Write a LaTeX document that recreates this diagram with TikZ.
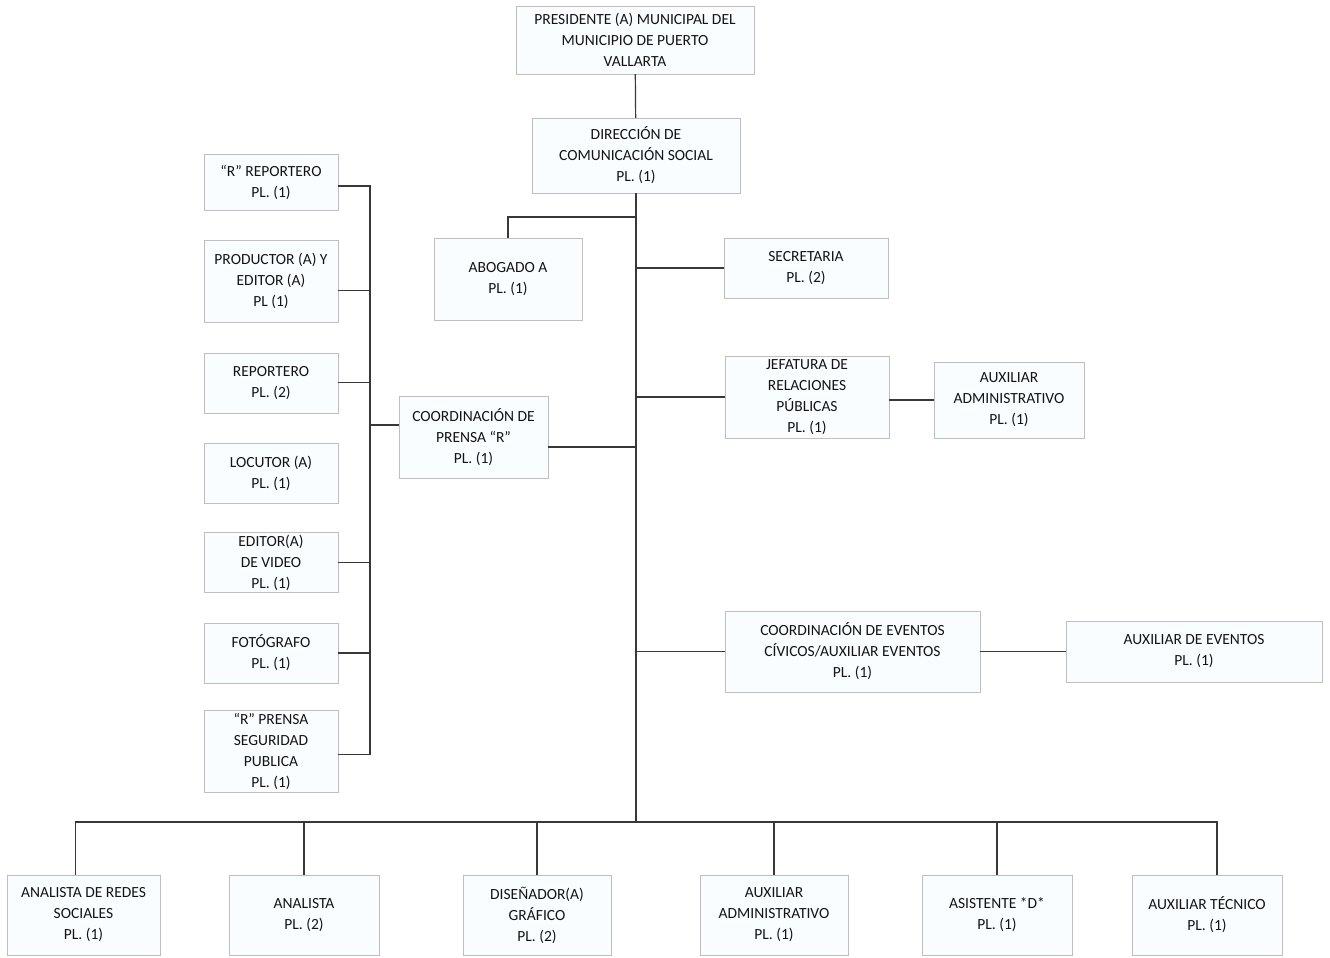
\documentclass[tikz,border=0pt]{standalone}
\usepackage{fontspec}
\setmainfont{Carlito}
\usetikzlibrary{positioning}

\begin{document}
\begin{tikzpicture}[x=1pt,y=-1pt,
every node/.style={font=\fontsize{15.5}{21}\selectfont, text=black!92},
puesto/.style={draw=black!25, fill=cyan!2, align=center, inner sep=2pt, minimum width=134pt},
abajo/.style={puesto, minimum width=150pt, minimum height=80pt},
linea/.style={draw=black!78, line width=1.2pt},
node distance=30pt]
\useasboundingbox (0,0) rectangle (1330,958);

% cabeza
\node[puesto, minimum width=238pt, minimum height=68pt] (pres) at (635,40) {PRESIDENTE (A) MUNICIPAL DEL\\MUNICIPIO DE PUERTO\\VALLARTA};
\node[puesto, minimum width=208pt, minimum height=75pt] (dir) at (636,155.5) {DIRECCIÓN DE\\COMUNICACIÓN SOCIAL\\PL. (1)};

% columna izquierda
\node[puesto, minimum height=56pt] (rrep) at (271,182) {“R” REPORTERO\\PL. (1)};
\node[puesto, minimum height=82pt, below=30pt of rrep] (prod) {PRODUCTOR (A) Y\\EDITOR (A)\\PL (1)};
\node[puesto, minimum height=60pt, below=30pt of prod] (rep) {REPORTERO\\PL. (2)};
\node[puesto, minimum height=60pt, below=30pt of rep] (loc) {LOCUTOR (A)\\PL. (1)};
\node[puesto, minimum height=60pt, below=29pt of loc] (edv) {EDITOR(A)\\DE VIDEO\\PL. (1)};
\node[puesto, minimum height=60pt, below=30pt of edv] (foto) {FOTÓGRAFO\\PL. (1)};
\node[puesto, minimum height=82pt, below=27pt of foto] (rpre) {“R” PRENSA\\SEGURIDAD\\PUBLICA\\PL. (1)};

% centro
\node[puesto, minimum width=148pt, minimum height=82pt] (abog) at (508,279) {ABOGADO A\\PL. (1)};
\node[puesto, minimum width=149pt, minimum height=82pt] (cpre) at (473.5,437) {COORDINACIÓN DE\\PRENSA “R”\\PL. (1)};

% derecha
\node[puesto, minimum width=164pt, minimum height=60pt] (secr) at (806,268) {SECRETARIA\\PL. (2)};
\node[puesto, minimum width=164pt, minimum height=82pt] (jef) at (807,397) {JEFATURA DE\\RELACIONES\\PÚBLICAS\\PL. (1)};
\node[puesto, minimum width=150pt, minimum height=76pt] (aux1) at (1009,400) {AUXILIAR\\ADMINISTRATIVO\\PL. (1)};
\node[puesto, minimum width=255pt, minimum height=81pt] (cev) at (852.5,651.5) {COORDINACIÓN DE EVENTOS\\CÍVICOS/AUXILIAR EVENTOS\\PL. (1)};
\node[puesto, minimum width=256pt, minimum height=61pt] (auxev) at (1194,651.5) {AUXILIAR DE EVENTOS\\PL. (1)};

% fila de abajo
\node[abajo, minimum width=153pt] (ars) at (83.5,915) {ANALISTA DE REDES\\SOCIALES\\PL. (1)};
\node[abajo] (ana) at (304,915) {ANALISTA\\PL. (2)};
\node[abajo, minimum width=148pt] (dis) at (537,915) {DISEÑADOR(A)\\GRÁFICO\\PL. (2)};
\node[abajo, minimum width=148pt] (aux2) at (774,915) {AUXILIAR\\ADMINISTRATIVO\\PL. (1)};
\node[abajo] (asi) at (997,915) {ASISTENTE *D*\\PL. (1)};
\node[abajo] (tec) at (1207,915) {AUXILIAR TÉCNICO\\PL. (1)};

\coordinate (rab) at (636,217);
\coordinate (bus) at (636,822);
\coordinate (lb) at (370,470);

% lineas
\draw[linea] (pres) -- (dir);
\draw[linea] (dir.south) -- (bus);
\draw[linea] (rab) -| (abog.north);
\foreach \n in {secr,jef,cev}
	\draw[linea] (\n.west) -- (\n.west -| bus);
\draw[linea] (aux1.west) -- (aux1.west -| jef.east);
\draw[linea] (cev.east) -- (cev.east -| auxev.west);
\draw[linea] ([yshift=-10pt]cpre.east) -- ([yshift=-10pt]cpre.east -| bus);

%columna izquierda
\draw[linea] ([yshift=-4pt]rrep.east) -| (lb) |- ([yshift=-3pt]rpre.east);
\foreach \n in {rep,edv,foto}
	\draw[linea] (\n.east) -- (\n.east -| lb);
\draw[linea] ([yshift=-9pt]prod.east) -- ([yshift=-9pt]prod.east -| lb);
\draw[linea] ([yshift=12pt]cpre.west) -- ([yshift=12pt]cpre.west -| lb);

%fila de abajo
\draw[linea] ([xshift=-8pt]ars.north) |- (bus) -| ([xshift=10pt]tec.north);
\foreach \n in {ana,dis,aux2,asi}
	\draw[linea] (\n.north) -- (\n.north |- bus);
\end{tikzpicture}
\end{document}
